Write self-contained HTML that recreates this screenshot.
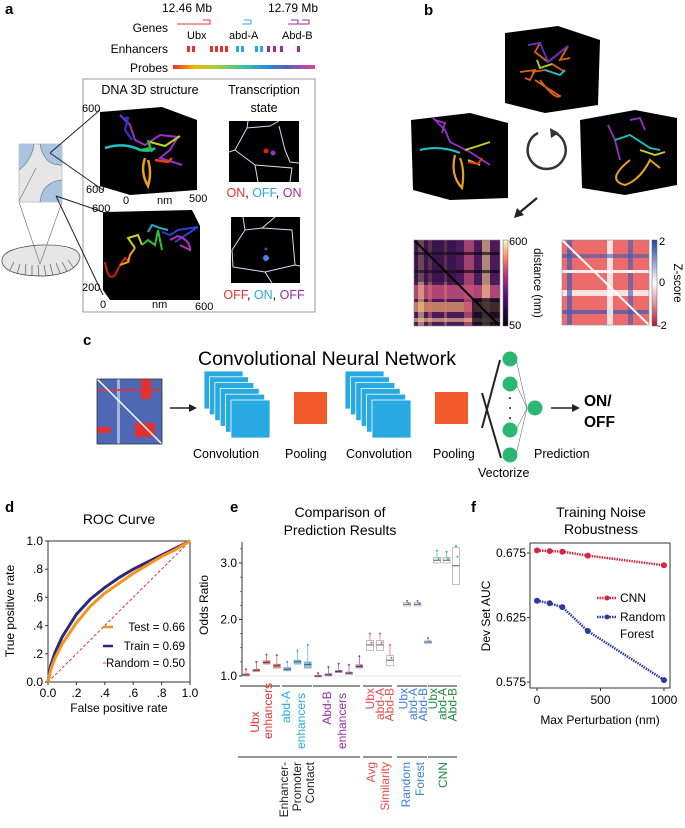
<!DOCTYPE html>
<html><head><meta charset="utf-8">
<style>
html,body{margin:0;padding:0;background:#fff;}
svg{display:block;font-family:"Liberation Sans",Arial,sans-serif;}
</style></head>
<body>
<svg id="fig" width="685" height="828" viewBox="0 0 685 828" xmlns="http://www.w3.org/2000/svg">
<defs>
  <linearGradient id="cbmag" x1="0" y1="1" x2="0" y2="0"><stop offset="0" stop-color="#000004"/><stop offset=".35" stop-color="#51127c"/><stop offset=".6" stop-color="#b73779"/><stop offset=".8" stop-color="#fc8961"/><stop offset="1" stop-color="#fcfdbf"/></linearGradient>
  <linearGradient id="cbz" x1="0" y1="1" x2="0" y2="0"><stop offset="0" stop-color="#b2182b"/><stop offset=".5" stop-color="#ffffff"/><stop offset="1" stop-color="#21409a"/></linearGradient>
  <pattern id="magpat" x="414" y="240" width="86" height="86" patternUnits="userSpaceOnUse">
    <rect width="86" height="86" fill="#4a1a5c"/>
    <rect x="0" y="45" width="86" height="14" fill="#c6517a" opacity=".8"/>
    <rect x="0" y="62" width="86" height="10" fill="#f3a56b" opacity=".7"/>
    <rect x="50" y="0" width="10" height="86" fill="#c6517a" opacity=".7"/>
    <rect x="68" y="0" width="8" height="86" fill="#f7d08a" opacity=".6"/>
    <rect x="4" y="0" width="6" height="86" fill="#f7d08a" opacity=".55"/>
    <rect x="14" y="0" width="4" height="86" fill="#e07a6a" opacity=".5"/>
    <rect x="30" y="0" width="3" height="86" fill="#e07a6a" opacity=".5"/>
    <rect x="0" y="12" width="86" height="3" fill="#000" opacity=".6"/>
    <rect x="0" y="30" width="86" height="3" fill="#000" opacity=".6"/>
    <rect x="0" y="78" width="86" height="4" fill="#f7d08a" opacity=".6"/>
    <rect x="0" y="0" width="42" height="42" fill="#2a0f3a" opacity=".5"/>
    <rect x="58" y="58" width="28" height="28" fill="#0a0412" opacity=".7"/>
    <line x1="0" y1="0" x2="86" y2="86" stroke="#000" stroke-width="2"/>
  </pattern>
  <pattern id="zpat" x="562" y="240" width="87" height="85" patternUnits="userSpaceOnUse">
    <rect width="87" height="85" fill="#e83a3a"/>
    <rect x="0" y="0" width="87" height="85" fill="#fff" opacity=".25"/>
    <rect x="0" y="50" width="87" height="6" fill="#fff" opacity=".8"/>
    <rect x="0" y="70" width="87" height="4" fill="#3b5bb5" opacity=".7"/>
    <rect x="5" y="0" width="5" height="85" fill="#3b5bb5" opacity=".7"/>
    <rect x="45" y="0" width="6" height="85" fill="#fff" opacity=".8"/>
    <rect x="66" y="0" width="5" height="85" fill="#3b5bb5" opacity=".6"/>
    <rect x="0" y="14" width="87" height="4" fill="#3b5bb5" opacity=".6"/>
    <rect x="0" y="30" width="87" height="3" fill="#fff" opacity=".9"/>
    <line x1="0" y1="0" x2="87" y2="85" stroke="#fff" stroke-width="2"/>
  </pattern>
  <pattern id="bpat" x="97" y="379" width="65" height="65" patternUnits="userSpaceOnUse">
    <rect width="65" height="65" fill="#2f4ea8"/>
    <rect x="0" y="0" width="65" height="65" fill="#fff" opacity=".15"/>
    <rect x="44" y="0" width="10" height="20" fill="#e53030"/>
    <rect x="38" y="44" width="20" height="14" fill="#e53030"/>
    <rect x="0" y="48" width="14" height="6" fill="#e53030"/>
    <rect x="20" y="0" width="3" height="65" fill="#fff" opacity=".5"/>
    <rect x="0" y="10" width="65" height="2" fill="#e53030" opacity=".8"/>
    <line x1="0" y1="0" x2="65" y2="65" stroke="#fff" stroke-width="1.5"/>
  </pattern>
  <linearGradient id="probegrad"><stop offset="0" stop-color="#e83030"/><stop offset=".15" stop-color="#f4b400"/><stop offset=".3" stop-color="#a6cf3a"/><stop offset=".5" stop-color="#3cc0a0"/><stop offset=".65" stop-color="#2a8ed8"/><stop offset=".8" stop-color="#5460b8"/><stop offset="1" stop-color="#e040a0"/></linearGradient>
</defs>

<!-- ================= Panel a ================= -->
<g>
  <text x="5" y="14" font-size="15" font-weight="bold">a</text>
  <text x="162" y="12" font-size="12">12.46 Mb</text>
  <text x="268" y="12" font-size="12">12.79 Mb</text>
  <text x="168" y="32" font-size="12" text-anchor="end">Genes</text>
  <path d="M177 24 H210 V20 H203" stroke="#e83030" fill="none" stroke-width="1"/>
  <path d="M242 24 H251 V20 H244" stroke="#29a9e1" fill="none" stroke-width="1"/>
  <path d="M288 24 H309 V20 H302 M298 24 V20 H291" stroke="#9b2d9e" fill="none" stroke-width="1"/>
  <text x="187" y="39" font-size="11">Ubx</text>
  <text x="229" y="39" font-size="11">abd-A</text>
  <text x="282" y="39" font-size="11">Abd-B</text>
  <text x="168" y="53" font-size="12" text-anchor="end">Enhancers</text>
  <g>
    <rect x="187" y="46" width="3" height="6" fill="#e83030"/><rect x="192" y="46" width="3" height="6" fill="#e83030"/>
    <rect x="210" y="46" width="3" height="6" fill="#e83030"/><rect x="215" y="46" width="3" height="6" fill="#e83030"/><rect x="220" y="46" width="3" height="6" fill="#e83030"/><rect x="225" y="46" width="3" height="6" fill="#e83030"/>
    <rect x="236" y="46" width="3" height="6" fill="#29a9e1"/><rect x="241" y="46" width="3" height="6" fill="#29a9e1"/>
    <rect x="255" y="46" width="3" height="6" fill="#29a9e1"/><rect x="260" y="46" width="3" height="6" fill="#29a9e1"/>
    <rect x="267" y="46" width="3" height="6" fill="#9b2d9e"/><rect x="273" y="46" width="3" height="6" fill="#9b2d9e"/><rect x="280" y="46" width="3" height="6" fill="#9b2d9e"/><rect x="297" y="46" width="3" height="6" fill="#9b2d9e"/>
  </g>
  <text x="168" y="72" font-size="12" text-anchor="end">Probes</text>
  <rect x="173" y="65" width="142" height="4" fill="url(#probegrad)"/>

  <rect x="83" y="79" width="232" height="233" fill="none" stroke="#999" stroke-width="1"/>
  <text x="150" y="94" font-size="12.5" text-anchor="middle">DNA 3D structure</text>
  <text x="264" y="94" font-size="12.5" text-anchor="middle">Transcription</text>
  <text x="264" y="112" font-size="12.5" text-anchor="middle">state</text>

  <rect x="19" y="144" width="43" height="58" fill="#e6e6e6" stroke="#aaa" stroke-width=".6"/>
  <path d="M19 144 H34 Q32 160 19 170 Z" fill="#a9c4de"/>
  <path d="M40 144 H62 V165 Q44 166 40 144 Z" fill="#a9c4de"/>
  <path d="M62 180 V202 H40 Q42 182 62 180 Z" fill="#a9c4de"/>
  <path d="M34 144 Q32 160 19 170 M40 144 Q44 166 62 165 M62 180 Q42 182 40 202 M36 168 L19 201" stroke="#666" fill="none" stroke-width=".6"/>
  <path d="M2 262 Q0 248 40 245 Q80 244 80 258 Q76 274 44 276 Q5 276 2 262 Z" fill="#e6e6e6" stroke="#444" stroke-width=".7"/>
  <path d="M20 264 L17 274 M26 264 L25 275 M32 265 L32 276 M38 265 L39 276 M44 265 L46 276 M50 264 L53 275 M56 263 L60 273 M62 262 L67 271 M68 260 L73 267 M14 262 L10 270" stroke="#444" stroke-width=".6"/>
  <path d="M19 202 L40 264 L62 202" stroke="#666" fill="none" stroke-width=".6"/>
  <path d="M50 153 L100 110 M50 153 L103 190 M56 196 L103 212 M56 196 L103 295" stroke="#222" fill="none" stroke-width="1"/>

  <g>
    <polygon points="100,112 162,107 197,120 197,190 130,195 100,186" fill="#000"/>
    <text x="82" y="112" font-size="11">600</text><text x="86" y="193" font-size="11">600</text>
    <text x="123" y="204" font-size="11">0</text><text x="157" y="204" font-size="11">nm</text><text x="189" y="202" font-size="11">500</text>
    <path d="M120 115 L130 125 L135 140 L145 145 L160 135 L178 137 L170 150 L160 158 L182 165" stroke="#9b30c8" fill="none" stroke-width="2"/>
    <path d="M122 118 L128 118 L125 130 L132 140" stroke="#2a3ad8" fill="none" stroke-width="2"/>
    <path d="M105 148 Q125 142 140 150 Q150 152 155 148" stroke="#1ec0c0" fill="none" stroke-width="2.5"/>
    <path d="M150 142 L165 146 L180 136" stroke="#c8d020" fill="none" stroke-width="2"/>
    <path d="M145 158 Q140 172 148 186 Q152 172 148 160" stroke="#e8a020" fill="none" stroke-width="2.5"/>
    <path d="M155 160 L168 162 L172 158" stroke="#e84010" fill="none" stroke-width="2.5"/>
    <path d="M140 150 L150 148 L148 140 L152 152" stroke="#30c030" fill="none" stroke-width="2"/>
  </g>
  <g>
    <polygon points="103,212 192,210 200,226 200,300 110,300 103,290" fill="#000"/>
    <text x="92" y="212" font-size="11">600</text><text x="82" y="291" font-size="11">200</text>
    <text x="100" y="308" font-size="11">0</text><text x="152" y="308" font-size="11">nm</text><text x="195" y="310" font-size="11">600</text>
    <path d="M105 262 Q108 282 115 275 L120 265 L125 258 L130 262" stroke="#d02010" fill="none" stroke-width="2"/>
    <path d="M120 265 L128 262 L130 255 L135 248" stroke="#f0a020" fill="none" stroke-width="2"/>
    <path d="M135 248 L128 238 L138 235 L142 245" stroke="#c8d020" fill="none" stroke-width="2"/>
    <path d="M142 245 L148 240 L155 245 L158 230 L162 250" stroke="#30c030" fill="none" stroke-width="2"/>
    <path d="M148 232 L152 225 L160 228 L168 230" stroke="#1eb0d0" fill="none" stroke-width="2"/>
    <path d="M162 232 L170 235 L178 230 L198 227 L175 242" stroke="#3040d0" fill="none" stroke-width="2"/>
    <path d="M170 240 L178 236 Q190 240 190 250 L180 245" stroke="#b030c0" fill="none" stroke-width="2"/>
  </g>
  <g>
    <rect x="229" y="121" width="70" height="61" fill="#000"/>
    <path d="M248 121 L247 128 L270 126 L279 121 M279 126 L285 150 L290 162 L299 163 M247 128 L235 150 L229 152 M235 150 L255 165 L258 182 M255 165 L292 168 L290 182" stroke="#e8d4f0" fill="none" stroke-width="1"/>
    <circle cx="266" cy="151" r="2.5" fill="#e02020"/><circle cx="273" cy="153" r="2.5" fill="#a030c0"/>
  </g>
  <text x="264" y="197" font-size="12.5" text-anchor="middle"><tspan fill="#e83030">ON</tspan>, <tspan fill="#29a9e1">OFF</tspan>, <tspan fill="#9b2d9e">ON</tspan></text>
  <g>
    <rect x="231" y="217" width="69" height="66" fill="#000"/>
    <path d="M243 217 L245 230 L262 228 L275 217 M262 228 L292 230 L295 265 L300 266 M245 230 L232 250 M232 250 L233 267 L265 272 L272 283 M265 272 L295 265" stroke="#e8d4f0" fill="none" stroke-width="1"/>
    <circle cx="266" cy="249" r="1.5" fill="#3050c0"/><circle cx="266" cy="258" r="3" fill="#4a80e8"/>
  </g>
  <text x="264" y="299" font-size="12.5" text-anchor="middle"><tspan fill="#e83030">OFF</tspan>, <tspan fill="#29a9e1">ON</tspan>, <tspan fill="#9b2d9e">OFF</tspan></text>
</g>

<!-- ================= Panel b ================= -->
<g>
  <text x="424" y="15" font-size="15" font-weight="bold">b</text>
  <g>
    <polygon points="505,33 558,26 600,40 598,105 545,113 505,103" fill="#000"/>
    <path d="M528 45 L540 43 L535 52 L548 62 L568 46 L560 60 L570 58 M532 72 L545 70 L560 75 L565 70 M520 72 L535 70 L530 80 L525 78 M540 80 Q555 100 560 96 Q550 90 535 80 M537 60 L540 68 L552 64 L565 72" stroke="#e06010" fill="none" stroke-width="1.8"/>
    <path d="M528 45 L540 43 L548 62 L568 46" stroke="#6030c8" fill="none" stroke-width="1.8"/>
    <path d="M545 70 L560 75 L565 70" stroke="#20c0c0" fill="none" stroke-width="1.8"/>
    <path d="M537 60 L540 68 L552 64" stroke="#a0d020" fill="none" stroke-width="1.8"/>
  </g>
  <g>
    <polygon points="411,120 470,113 508,123 508,198 450,200 413,190" fill="#000"/>
    <path d="M433 118 L445 130 L450 142 L470 152 L490 165 M435 120 L445 123 L442 133" stroke="#9b30c8" fill="none" stroke-width="1.8"/>
    <path d="M420 150 Q440 145 460 153" stroke="#1ec0c0" fill="none" stroke-width="2.2"/>
    <path d="M455 155 Q450 175 462 188 Q465 170 460 158" stroke="#e8a020" fill="none" stroke-width="2.2"/>
    <path d="M465 150 L478 146 L490 142 M468 160 L480 165" stroke="#c8d020" fill="none" stroke-width="1.8"/>
    <path d="M468 162 L478 164 L482 158" stroke="#e84010" fill="none" stroke-width="2"/>
  </g>
  <g>
    <polygon points="580,120 635,110 677,118 677,185 625,195 582,188" fill="#000"/>
    <path d="M608 125 L615 140 L620 160 M630 120 L640 118 L645 130" stroke="#9b30c8" fill="none" stroke-width="1.8"/>
    <path d="M615 140 L630 135 L650 148 L660 150" stroke="#1ec0c0" fill="none" stroke-width="1.8"/>
    <path d="M640 150 L655 155 L665 152" stroke="#c8d020" fill="none" stroke-width="1.8"/>
    <path d="M630 160 Q605 180 625 185 Q640 180 650 160 L660 168" stroke="#e8a020" fill="none" stroke-width="2"/>
  </g>
  <g>
    <path d="M553 132 A19 19 0 1 1 538 133" stroke="#333" fill="none" stroke-width="2.5"/>
    <polygon points="550,128 559,133 551,138" fill="#333"/>
  </g>
  <g>
    <line x1="537" y1="198" x2="519" y2="213" stroke="#222" stroke-width="2.2"/>
    <polygon points="514,218 517,208 524,215" fill="#222"/>
  </g>
  <rect x="414" y="240" width="86" height="86" fill="url(#magpat)" stroke="#888" stroke-width=".6"/>
  <rect x="503" y="240" width="5" height="86" fill="url(#cbmag)" stroke="#666" stroke-width=".5"/>
  <text x="509" y="245" font-size="11">600</text><text x="509" y="329" font-size="11">50</text>
  <text transform="translate(534,283) rotate(90)" font-size="11.5" text-anchor="middle">distance (nm)</text>
  <rect x="562" y="240" width="87" height="85" fill="url(#zpat)" stroke="#888" stroke-width=".6"/>
  <rect x="652" y="240" width="5" height="86" fill="url(#cbz)" stroke="#666" stroke-width=".5"/>
  <text x="659" y="245" font-size="11">2</text><text x="659" y="286" font-size="11">0</text><text x="657" y="329" font-size="11">-2</text>
  <text transform="translate(674,283) rotate(90)" font-size="11.5" text-anchor="middle">Z-score</text>
</g>

<!-- ================= Panel c ================= -->
<g>
  <text x="83" y="345" font-size="15" font-weight="bold">c</text>
  <text x="198" y="365" font-size="19.5">Convolutional Neural Network</text>
  <rect x="97" y="379" width="65" height="65" fill="url(#bpat)" stroke="#333" stroke-width=".8"/>
  <line x1="170" y1="408" x2="192" y2="408" stroke="#222" stroke-width="1.5"/><polygon points="197,408 189,404 189,412" fill="#222"/>
  <g>
    <rect x="204" y="371" width="39" height="38" fill="#29a9e1" stroke="#fff" stroke-width=".8"/>
    <rect x="209.4" y="376.8" width="39" height="38" fill="#29a9e1" stroke="#fff" stroke-width=".8"/>
    <rect x="214.8" y="382.6" width="39" height="38" fill="#29a9e1" stroke="#fff" stroke-width=".8"/>
    <rect x="220.2" y="388.4" width="39" height="38" fill="#29a9e1" stroke="#fff" stroke-width=".8"/>
    <rect x="225.6" y="394.2" width="39" height="38" fill="#29a9e1" stroke="#fff" stroke-width=".8"/>
    <rect x="231" y="400" width="39" height="38" fill="#29a9e1" stroke="#fff" stroke-width=".8"/>
  </g>
  <rect x="294" y="392" width="33" height="32" fill="#f15a2b"/>
  <g>
    <rect x="345" y="371" width="39" height="38" fill="#29a9e1" stroke="#fff" stroke-width=".8"/>
    <rect x="350.4" y="376.8" width="39" height="38" fill="#29a9e1" stroke="#fff" stroke-width=".8"/>
    <rect x="355.8" y="382.6" width="39" height="38" fill="#29a9e1" stroke="#fff" stroke-width=".8"/>
    <rect x="361.2" y="388.4" width="39" height="38" fill="#29a9e1" stroke="#fff" stroke-width=".8"/>
    <rect x="366.6" y="394.2" width="39" height="38" fill="#29a9e1" stroke="#fff" stroke-width=".8"/>
    <rect x="372" y="400" width="39" height="38" fill="#29a9e1" stroke="#fff" stroke-width=".8"/>
  </g>
  <rect x="435" y="392" width="33" height="32" fill="#f15a2b"/>
  <g>
    <line x1="500" y1="360" x2="482" y2="428" stroke="#222" stroke-width="2"/>
    <line x1="482" y1="393" x2="501" y2="458" stroke="#222" stroke-width="2"/>
    <path d="M516 359 L527 408 L516 384 M516 430 L527 408 L516 455" stroke="#555" fill="none" stroke-width=".5"/>
    <circle cx="510" cy="359" r="7.5" fill="#2bb673"/><circle cx="510" cy="384" r="7.5" fill="#2bb673"/>
    <circle cx="510" cy="430" r="7.5" fill="#2bb673"/><circle cx="510" cy="455" r="7.5" fill="#2bb673"/>
    <circle cx="510" cy="398" r="1" fill="#222"/><circle cx="510" cy="408" r="1" fill="#222"/><circle cx="510" cy="418" r="1" fill="#222"/>
    <circle cx="535" cy="408" r="7.5" fill="#2bb673"/>
  </g>
  <line x1="551" y1="408" x2="574" y2="408" stroke="#222" stroke-width="1.5"/><polygon points="580,408 572,404 572,412" fill="#222"/>
  <text x="584" y="406" font-size="15.5" font-weight="bold">ON/</text>
  <text x="584" y="427" font-size="15.5" font-weight="bold">OFF</text>
  <g font-size="12.5">
    <text x="193" y="458">Convolution</text><text x="285" y="458">Pooling</text>
    <text x="346" y="458">Convolution</text><text x="433" y="458">Pooling</text>
    <text x="478" y="477">Vectorize</text><text x="534" y="458">Prediction</text>
  </g>
</g>

<!-- ================= Panel d ================= -->
<g id="pd">
  <text x="5" y="512" font-size="15" font-weight="bold">d</text>
  <text x="119" y="524" font-size="14" text-anchor="middle">ROC Curve</text>
  <text x="119" y="712" font-size="12" text-anchor="middle">False positive rate</text>
  <text transform="translate(14,611) rotate(-90)" font-size="12" text-anchor="middle">True positive rate</text>
</g>

<!-- ================= Panel e ================= -->
<g id="pe">
  <text x="230" y="512" font-size="15" font-weight="bold">e</text>
  <text x="340" y="517" font-size="14" text-anchor="middle">Comparison of</text>
  <text x="340" y="535" font-size="14" text-anchor="middle">Prediction Results</text>
  <text transform="translate(208,605) rotate(-90)" font-size="12" text-anchor="middle">Odds Ratio</text>
</g>

<!-- ================= Panel f ================= -->
<g id="pf">
  <text x="471" y="512" font-size="15" font-weight="bold">f</text>
  <text x="601" y="517" font-size="14" text-anchor="middle">Training Noise</text>
  <text x="601" y="534" font-size="14" text-anchor="middle">Robustness</text>
  <text x="600" y="724" font-size="12" text-anchor="middle">Max Perturbation (nm)</text>
  <text transform="translate(490,616) rotate(-90)" font-size="12" text-anchor="middle">Dev Set AUC</text>
</g>

<script>
const rocFpr = [0, 0.02, 0.05, 0.1, 0.2, 0.3, 0.4, 0.5, 0.6, 0.7, 0.8, 0.9, 1];
const rocTrain = [0, 0.12, 0.21, 0.32, 0.48, 0.59, 0.67, 0.74, 0.80, 0.85, 0.90, 0.95, 1];
const rocTest = [0, 0.09, 0.17, 0.27, 0.42, 0.54, 0.63, 0.70, 0.77, 0.83, 0.89, 0.94, 1];
const rocTicks = [0, 0.2, 0.4, 0.6, 0.8, 1.0];
const rocTickLabels = ["0.0", ".2", ".4", ".6", ".8", "1.0"];
const legendLabels = ["Test = 0.66", "Train  = 0.69", "Random  = 0.50"];

const oddsMedian = [1.02, 1.1, 1.24, 1.18, 1.12, 1.25, 1.2, 1.0, 1.02, 1.08, 1.05, 1.17, 1.55, 1.55, 1.28, 2.27, 2.27, 1.6, 3.05, 3.05, 2.95];
const oddsQ1 = [1.0, 1.08, 1.21, 1.14, 1.09, 1.21, 1.14, 1.0, 1.0, 1.06, 1.03, 1.14, 1.45, 1.45, 1.18, 2.24, 2.24, 1.58, 3.0, 3.0, 2.62];
const oddsQ3 = [1.04, 1.12, 1.27, 1.21, 1.15, 1.28, 1.25, 1.01, 1.04, 1.1, 1.07, 1.2, 1.63, 1.63, 1.36, 2.3, 2.3, 1.62, 3.1, 3.1, 3.27];
const oddsMax = [1.12, 1.25, 1.38, 1.37, 1.25, 1.45, 1.55, 1.05, 1.16, 1.22, 1.2, 1.35, 1.75, 1.75, 1.55, 2.33, 2.33, 1.67, 3.22, 3.2, 3.3];
const oddsGroup = [0,0,0,0,1,1,1,2,2,2,2,2,3,3,3,4,4,4,5,5,5];
const oddsTicks = [1.0, 2.0, 3.0];
const oddsTickLabels = ["1.0", "2.0", "3.0"];

const perturb = [0, 100, 200, 400, 1000];
const aucCNN = [0.677, 0.6765, 0.676, 0.673, 0.6655];
const aucRF = [0.638, 0.636, 0.633, 0.6145, 0.5765];
const aucTicks = [0.575, 0.625, 0.675];
const aucTickLabels = ["0.575", "0.625", "0.675"];
const perturbTicks = [0, 500, 1000];

const NS = "http://www.w3.org/2000/svg";
function mk(parent, tag, attrs, txt) {
  const e = document.createElementNS(NS, tag);
  for (const k in attrs) e.setAttribute(k, attrs[k]);
  if (txt !== undefined) e.textContent = txt;
  parent.appendChild(e);
  return e;
}

(function () {
  const g = document.getElementById('pd');
  const X0 = 48, X1 = 190, Y0 = 682, Y1 = 541;
  const sx = v => X0 + v * (X1 - X0);
  const sy = v => Y0 - v * (Y0 - Y1);
  const frame = mk(g, 'rect', {x: X0, y: Y1, width: X1 - X0, height: Y0 - Y1, fill: 'none', stroke: '#333', 'stroke-width': 1});
  
  
  rocTicks.forEach((t, i) => {
    mk(g, 'line', {x1: sx(t), x2: sx(t), y1: Y0, y2: Y0 + 3, stroke: '#333'});
    const xl = mk(g, 'text', {x: sx(t), y: Y0 + 15, 'font-size': 12, 'text-anchor': 'middle'}, rocTickLabels[i]);
    
    
    mk(g, 'line', {x1: X0 - 3, x2: X0, y1: sy(t), y2: sy(t), stroke: '#333'});
    const yl = mk(g, 'text', {x: X0 - 5, y: sy(t) + 4, 'font-size': 12, 'text-anchor': 'end'}, rocTickLabels[i]);
    
    
  });
  const rnd = mk(g, 'line', {x1: sx(0), y1: sy(0), x2: sx(1), y2: sy(1), stroke: '#e83030', 'stroke-width': 1, 'stroke-dasharray': '3,2'});
  
  
  const pts = arr => rocFpr.map((f, i) => sx(f) + ',' + sy(arr[i])).join(' ');
  const tr = mk(g, 'polyline', {points: pts(rocTrain), fill: 'none', stroke: '#2b2a7a', 'stroke-width': 3});
  
  
  const te = mk(g, 'polyline', {points: pts(rocTest), fill: 'none', stroke: '#f7941d', 'stroke-width': 3});
  
  
  const lc = ['#f7941d', '#2b2a7a', '#e83030'];
  const ly = [631, 650, 667];
  legendLabels.forEach((l, i) => {
    mk(g, 'line', {x1: 103, x2: 113, y1: ly[i] - 4, y2: ly[i] - 4, stroke: lc[i], 'stroke-width': i < 2 ? 2.5 : 1, 'stroke-dasharray': i == 2 ? '3,2' : 'none'});
    const t = mk(g, 'text', {x: 185, y: ly[i], 'font-size': 11.5, 'text-anchor': 'end'}, l);
    
    
  });
})();

(function () {
  const g = document.getElementById('pe');
  const AX = 242, Ytop = 542, Ybot = 676;
  const sy = v => 676 - (v - 1.0) * 56.5;
  const boxX = i => i < 12 ? 246 + i * 10.3 : (i < 15 ? 370 + (i - 12) * 10 : (i < 18 ? 407 + (i - 15) * 10.5 : 437 + (i - 18) * 9.5));
  const grpColor = ['#e83030', '#29a9e1', '#9b2d9e', '#e84a4a', '#3b7fd4', '#2bb673'];
  mk(g, 'line', {x1: AX, x2: AX, y1: Ytop, y2: Ybot, stroke: '#333'});
  mk(g, 'line', {x1: AX, x2: 462, y1: Ybot, y2: Ybot, stroke: '#ccc', 'stroke-width': .5});
  oddsTicks.forEach((t, i) => {
    mk(g, 'line', {x1: AX - 3, x2: AX, y1: sy(t), y2: sy(t), stroke: '#333'});
    const l = mk(g, 'text', {x: AX - 5, y: sy(t) + 4, 'font-size': 12, 'text-anchor': 'end'}, oddsTickLabels[i]);
    
    
  });
  [1.25, 1.5, 1.75, 2.25, 2.5, 2.75, 3.25].forEach(t => mk(g, 'line', {x1: AX - 2, x2: AX, y1: sy(t), y2: sy(t), stroke: '#333', 'stroke-width': .6}));
  oddsMedian.forEach((m, i) => {
    const x = boxX(i), w = 7, c = grpColor[oddsGroup[i]];
    mk(g, 'line', {x1: x, x2: x, y1: sy(oddsMax[i]), y2: sy(oddsQ3[i]), stroke: c, 'stroke-width': .6});
    const b = mk(g, 'rect', {x: x - w / 2, y: sy(oddsQ3[i]), width: w, height: Math.max(1.5, sy(oddsQ1[i]) - sy(oddsQ3[i])), fill: oddsGroup[i] < 3 ? c : 'none', 'fill-opacity': .6, stroke: '#999', 'stroke-width': .6});
    
    
    mk(g, 'line', {x1: x - w / 2, x2: x + w / 2, y1: sy(m), y2: sy(m), stroke: '#333', 'stroke-width': .8});
    mk(g, 'circle', {cx: x, cy: sy(oddsMax[i]), r: 1, fill: c});
    mk(g, 'circle', {cx: x + 1.5, cy: sy((m + oddsQ3[i]) / 2), r: 1, fill: c});
  });
  [[240,280],[282,312],[313,360],[363,392],[397,427],[428,457]].forEach(s => mk(g, 'line', {x1: s[0], x2: s[1], y1: 686, y2: 686, stroke: '#555', 'stroke-width': 1.2}));
  [[238,360],[363,392],[397,427],[428,457]].forEach(s => mk(g, 'line', {x1: s[0], x2: s[1], y1: 757, y2: 757, stroke: '#555', 'stroke-width': 1.2}));
  const rot = (x, y, txt, col, anchor, name) => {
    const t = mk(g, 'text', {transform: 'translate(' + x + ',' + y + ') rotate(-90)', 'font-size': 12, fill: col, 'text-anchor': anchor}, txt);
    
    
  };
  rot(259, 722, 'Ubx', '#e83030', 'middle', 'category-label');
  rot(272, 711, 'enhancers', '#e83030', 'middle', 'category-label');
  rot(290, 707, 'abd-A', '#29a9e1', 'middle', 'category-label');
  rot(305, 721, 'enhancers', '#29a9e1', 'middle', 'category-label');
  rot(331, 708, 'Abd-B', '#9b2d9e', 'middle', 'category-label');
  rot(346, 721, 'enhancers', '#9b2d9e', 'middle', 'category-label');
  ['Ubx','abd-A','Abd-B','Ubx','abd-A','Abd-B','Ubx','abd-A','Abd-B'].forEach((t, i) => {
    const col = i < 3 ? '#e84a4a' : (i < 6 ? '#3b7fd4' : '#1e8a3e');
    rot(374 + i * 9.8 + (i >= 3 ? 4 : 0), 688, t, col, 'end', 'model-label');
  });
  rot(288, 762, 'Enhancer-', '#222', 'end', 'group-label');
  rot(301, 762, 'Promoter', '#222', 'end', 'group-label');
  rot(314, 762, 'Contact', '#222', 'end', 'group-label');
  rot(375, 762, 'Avg', '#e84a4a', 'end', 'group-label');
  rot(389, 762, 'Similarity', '#e84a4a', 'end', 'group-label');
  rot(410, 762, 'Random', '#3b7fd4', 'end', 'group-label');
  rot(424, 762, 'Forest', '#3b7fd4', 'end', 'group-label');
  rot(447, 762, 'CNN', '#1e8a3e', 'end', 'group-label');
})();

(function () {
  const g = document.getElementById('pf');
  const X0 = 530, X1 = 670, Y1 = 543, Y0 = 688;
  const sx = v => 537 + v / 1000 * 127;
  const sy = v => 553 + (0.675 - v) / 0.05 * 64.5;
  const fr = mk(g, 'rect', {x: X0, y: Y1, width: X1 - X0, height: Y0 - Y1, fill: 'none', stroke: '#333'});
  
  
  aucTicks.forEach((t, i) => {
    mk(g, 'line', {x1: X0 - 3, x2: X0, y1: sy(t), y2: sy(t), stroke: '#333'});
    const l = mk(g, 'text', {x: X0 - 4, y: sy(t) + 4, 'font-size': 12, 'text-anchor': 'end'}, aucTickLabels[i]);
    
    
  });
  perturbTicks.forEach(t => {
    mk(g, 'line', {x1: sx(t), x2: sx(t), y1: Y0, y2: Y0 + 3, stroke: '#333'});
    const l = mk(g, 'text', {x: sx(t), y: Y0 + 16, 'font-size': 12, 'text-anchor': 'middle'}, String(t));
    
    
  });
  const series = [[aucCNN, '#d7263d', 'cnn-line'], [aucRF, '#2b3a9e', 'random-forest-line']];
  series.forEach(s => {
    const pl = mk(g, 'polyline', {points: perturb.map((p, i) => sx(p) + ',' + sy(s[0][i])).join(' '), fill: 'none', stroke: s[1], 'stroke-width': 2.5, 'stroke-dasharray': '1.5,1'});
    
    
    perturb.forEach((p, i) => {
      const c = mk(g, 'circle', {cx: sx(p), cy: sy(s[0][i]), r: 3, fill: s[1]});
      
      
    });
  });
  mk(g, 'line', {x1: 597, x2: 617, y1: 598, y2: 598, stroke: '#d7263d', 'stroke-width': 2.5, 'stroke-dasharray': '1.5,1'});
  mk(g, 'circle', {cx: 607, cy: 598, r: 2.5, fill: '#d7263d'});
  const l1 = mk(g, 'text', {x: 620, y: 602, 'font-size': 12}, 'CNN');
  
  
  mk(g, 'line', {x1: 597, x2: 617, y1: 617, y2: 617, stroke: '#2b3a9e', 'stroke-width': 2.5, 'stroke-dasharray': '1.5,1'});
  mk(g, 'circle', {cx: 607, cy: 617, r: 2.5, fill: '#2b3a9e'});
  const l2 = mk(g, 'text', {x: 620, y: 621, 'font-size': 12}, 'Random');
  
  
  mk(g, 'text', {x: 620, y: 638, 'font-size': 12}, 'Forest');
})();
</script>
</body></html>
